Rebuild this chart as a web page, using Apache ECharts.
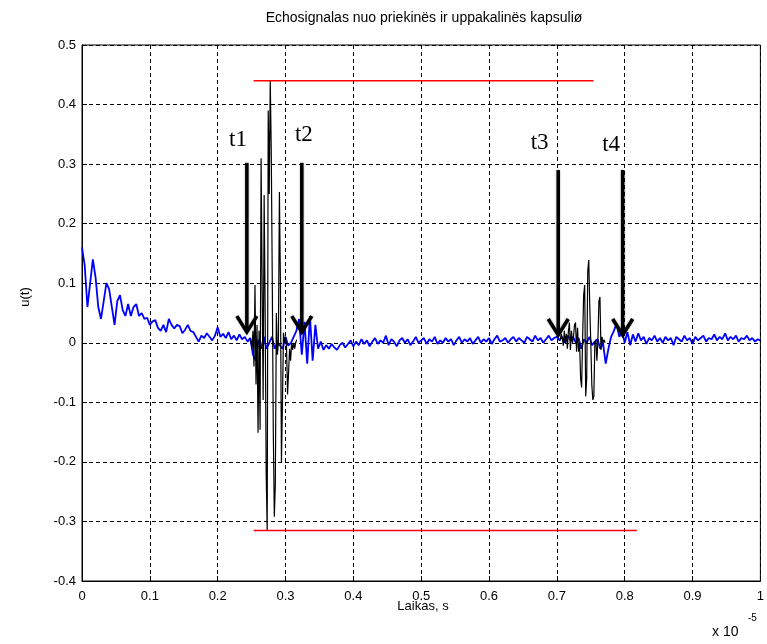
<!DOCTYPE html>
<html>
<head>
<meta charset="utf-8">
<script src="https://cdn.jsdelivr.net/npm/echarts@6/dist/echarts.min.js"></script>
<style>
  html, body { margin: 0; padding: 0; background: #fff; }
  #chart { width: 767px; height: 644px; }
</style>
</head>
<body>
<div id="chart"></div>
<script>
// Received echo signal, time axis in units of 1e-5 s
const titleText = 'Echosignalas nuo priekinës ir uppakalinës kapsuliø';
const xAxisName = 'Laikas, s';
const yAxisName = 'u(t)';

// Measured signal (blue), sampled every sampleStep
const sampleStep = 0.004;
const blueSignal = [
  0.16, 0.13, 0.06, 0.10, 0.14, 0.11, 0.06, 0.04, 0.07, 0.10,
  0.09, 0.06, 0.03, 0.07, 0.08, 0.055, 0.045, 0.065, 0.045, 0.06,
  0.065, 0.045, 0.05, 0.04, 0.042, 0.03, 0.036, 0.038, 0.025, 0.02,
  0.03, 0.018, 0.04, 0.03, 0.024, 0.03, 0.028, 0.016, 0.022, 0.03,
  0.02, 0.018, 0.01, 0.002, 0.012, 0.008, 0.016, 0.01, 0.004, 0.012,
  0.026, 0.01, 0.015, 0.008, 0.018, 0.006, 0.012, 0.004, 0.014, 0.006,
  0.01, 0.002, 0.008, -0.02, -0.03, 0.005, -0.01, 0.01, -0.01, 0.0,
  0.01, -0.01, 0.0, -0.005, -0.01, 0.01, -0.005, 0.0, 0.01, 0.02,
  0.04, -0.02, 0.035, -0.035, 0.045, -0.03, 0.03, -0.01, 0.002, -0.012,
  -0.004, -0.01, -0.002, -0.008, -0.012, -0.004, 0.0, -0.008, -0.002, 0.004,
  -0.006, 0.002, -0.004, 0.006, -0.002, 0.004, -0.006, 0.002, 0.008, -0.002,
  0.004, 0.0, 0.012, -0.004, 0.006, 0.002, -0.006, 0.004, 0.008, 0.0,
  0.006, -0.004, 0.002, 0.01, 0.0, 0.004, 0.008, -0.002, 0.006, 0.002,
  0.01, -0.002, 0.004, 0.0, 0.008, 0.002, 0.006, -0.004, 0.004, 0.01,
  0.0, 0.006, 0.002, 0.008, -0.002, 0.004, 0.01, 0.0, 0.006, 0.002,
  0.008, -0.002, 0.006, 0.012, 0.002, 0.004, 0.008, 0.0, 0.006, 0.01,
  0.002, 0.008, 0.004, 0.0, 0.01, 0.006, 0.002, 0.012, 0.004, 0.008,
  0.0, 0.006, 0.012, 0.004, 0.008, 0.01, 0.004, 0.01, 0.0, 0.012,
  0.004, 0.01, 0.0, 0.008, -0.01, 0.006, 0.0, 0.01, -0.004, 0.002,
  0.006, -0.01, 0.0, -0.035, -0.01, 0.01, 0.02, 0.032, 0.01, 0.02,
  0.0, 0.018, -0.004, 0.014, 0.002, 0.016, 0.004, 0.01, -0.002, 0.008,
  0.004, 0.012, 0.002, 0.008, 0.0, 0.01, 0.004, 0.008, -0.004, 0.01,
  0.006, 0.002, 0.012, 0.004, 0.008, -0.002, 0.01, 0.004, 0.008, 0.012,
  0.002, 0.008, 0.006, 0.014, 0.004, 0.01, 0.006, 0.016, 0.004, 0.01,
  0.006, 0.012, 0.002, 0.008, 0.006, 0.012, 0.004, 0.008, 0.002, 0.006,
  0.004
];

// Echo pulses (black): front and rear capsule reflections
const echoStep = 0.0015;
const echo1Start = 0.249;
const echo1Values = [
  0.005, -0.01, 0.02, -0.04, 0.097, -0.07, 0.03, -0.151, 0.02, -0.146,
  0.31, 0.1, -0.096, 0.248, 0.05, -0.22, -0.315, 0.39, 0.25, 0.44,
  0.32, 0.1, -0.15, -0.292, -0.238, 0.05, -0.02, 0.0, 0.253, 0.1,
  -0.2, -0.1, 0.017, 0.0, 0.01, -0.007, -0.087, -0.05, -0.01, -0.03,
  0.0, -0.012, 0.0, -0.01, 0.0, 0.005
];
const echo2Start = 0.705;
const echo2Values = [
  0.005, 0.015, 0.008, -0.005, 0.02, 0.0, 0.015, -0.01, 0.02, 0.034,
  -0.012, 0.02, 0.0, 0.01, 0.03, 0.034, -0.015, 0.025, -0.015, 0.0,
  -0.06, -0.075, 0.01, 0.08, 0.097, -0.09, -0.06, 0.12, 0.139, 0.06,
  0.0, -0.07, -0.096, -0.09, 0.0, 0.005, -0.03, 0.005, 0.07, 0.077,
  -0.012, 0.01, 0.0, 0.005, 0.0
];

// Red level markers: maximum and minimum of the echo
const peakLevel = 0.44;
const peakSpan = [0.253, 0.754];
const troughLevel = -0.315;
const troughSpan = [0.253, 0.818];

// Time-of-flight markers
const arrowLabels = ['t1', 't2', 't3', 't4'];
const arrowTimes = [0.243, 0.324, 0.702, 0.797];
const arrowTops = [0.302, 0.302, 0.29, 0.29];
const arrowTips = [0.018, 0.018, 0.013, 0.013];
const labelTimes = [0.23, 0.327, 0.6745, 0.780];
const labelLevels = [0.3406, 0.349, 0.3356, 0.332];

const blueData = blueSignal.map((v, i) => [i * sampleStep, v]);
const echo1Data = echo1Values.map((v, i) => [echo1Start + i * echoStep, v]);
const echo2Data = echo2Values.map((v, i) => [echo2Start + i * echoStep, v]);
const arrowData = arrowTimes.map((t, i) => [t, arrowTops[i], arrowTips[i]]);
const labelData = labelTimes.map((t, i) => [t, labelLevels[i], arrowLabels[i]]);

const sans = 'Liberation Sans, Arial, sans-serif';
const axisCommon = {
  axisLine: { show: true, onZero: false, lineStyle: { color: '#000', width: 1 } },
  axisTick: { show: true, inside: true, length: 5, lineStyle: { color: '#000' } },
  splitLine: { show: true, lineStyle: { color: '#000', type: [4, 3], width: 1 } },
};

const chart = echarts.init(document.getElementById('chart'));
chart.setOption({
  animation: false,
  backgroundColor: '#fff',
  grid: { left: 82, right: 3, top: 45, bottom: 63, show: true, borderColor: '#000', borderWidth: 1 },
  xAxis: Object.assign({
    type: 'value', min: 0, max: 1, interval: 0.1,
    axisLabel: { color: '#000', fontFamily: sans, fontSize: 13, margin: 9 }
  }, axisCommon),
  yAxis: Object.assign({
    type: 'value', min: -0.4, max: 0.5, interval: 0.1,
    axisLabel: { color: '#000', fontFamily: sans, fontSize: 13, margin: 6 }
  }, axisCommon),
  graphic: [
    { type: 'text', x: 424, y: 18, style: { text: titleText, font: '14px ' + sans, fill: '#000', align: 'center', verticalAlign: 'middle' } },
    { type: 'text', x: 423, y: 606, style: { text: xAxisName, font: '13px ' + sans, fill: '#000', align: 'center', verticalAlign: 'middle' } },
    { type: 'text', x: 25, y: 297, rotation: Math.PI / 2, style: { text: yAxisName, font: '13px ' + sans, fill: '#000', align: 'center', verticalAlign: 'middle' } },
    { type: 'text', x: 712, y: 632, style: { text: 'x 10', font: '14px ' + sans, fill: '#000', align: 'left', verticalAlign: 'middle' } },
    { type: 'text', x: 748, y: 618, style: { text: '-5', font: '10px ' + sans, fill: '#000', align: 'left', verticalAlign: 'middle' } }
  ],
  series: [
    {
      name: 'signal', type: 'line', data: blueData, showSymbol: false, z: 2,
      lineStyle: { color: '#0000ff', width: 1.8 }
    },
    {
      name: 'echo1', type: 'line', data: echo1Data, showSymbol: false, z: 3,
      lineStyle: { color: '#000', width: 1.2 }
    },
    {
      name: 'echo2', type: 'line', data: echo2Data, showSymbol: false, z: 3,
      lineStyle: { color: '#000', width: 1.2 }
    },
    {
      name: 'peak', type: 'line', data: [[peakSpan[0], peakLevel], [peakSpan[1], peakLevel]],
      showSymbol: false, z: 4, lineStyle: { color: '#ff0000', width: 1.5 }
    },
    {
      name: 'trough', type: 'line', data: [[troughSpan[0], troughLevel], [troughSpan[1], troughLevel]],
      showSymbol: false, z: 4, lineStyle: { color: '#ff0000', width: 1.5 }
    },
    {
      name: 'arrows', type: 'custom', data: arrowData, z: 5,
      renderItem: function (params, api) {
        const top = api.coord([api.value(0), api.value(1)]);
        const tip = api.coord([api.value(0), api.value(2)]);
        const style = { stroke: '#000', lineWidth: 3.5, fill: null, shadowBlur: 2, shadowColor: 'rgba(0,0,0,0.4)' };
        return {
          type: 'group',
          children: [
            { type: 'line', shape: { x1: top[0], y1: top[1], x2: tip[0], y2: tip[1] - 2 }, style: style },
            { type: 'polyline', shape: { points: [[tip[0] - 10, tip[1] - 16], [tip[0], tip[1]], [tip[0] + 10, tip[1] - 16]] }, style: style }
          ]
        };
      }
    },
    {
      name: 'arrowLabels', type: 'custom', data: labelData, z: 5,
      renderItem: function (params, api) {
        const p = api.coord([api.value(0), api.value(1)]);
        return {
          type: 'text', x: p[0], y: p[1],
          style: { text: arrowLabels[params.dataIndex], font: '23px Liberation Serif, Times New Roman, serif', fill: '#000', align: 'center', verticalAlign: 'middle' }
        };
      }
    }
  ]
});
</script>
</body>
</html>
